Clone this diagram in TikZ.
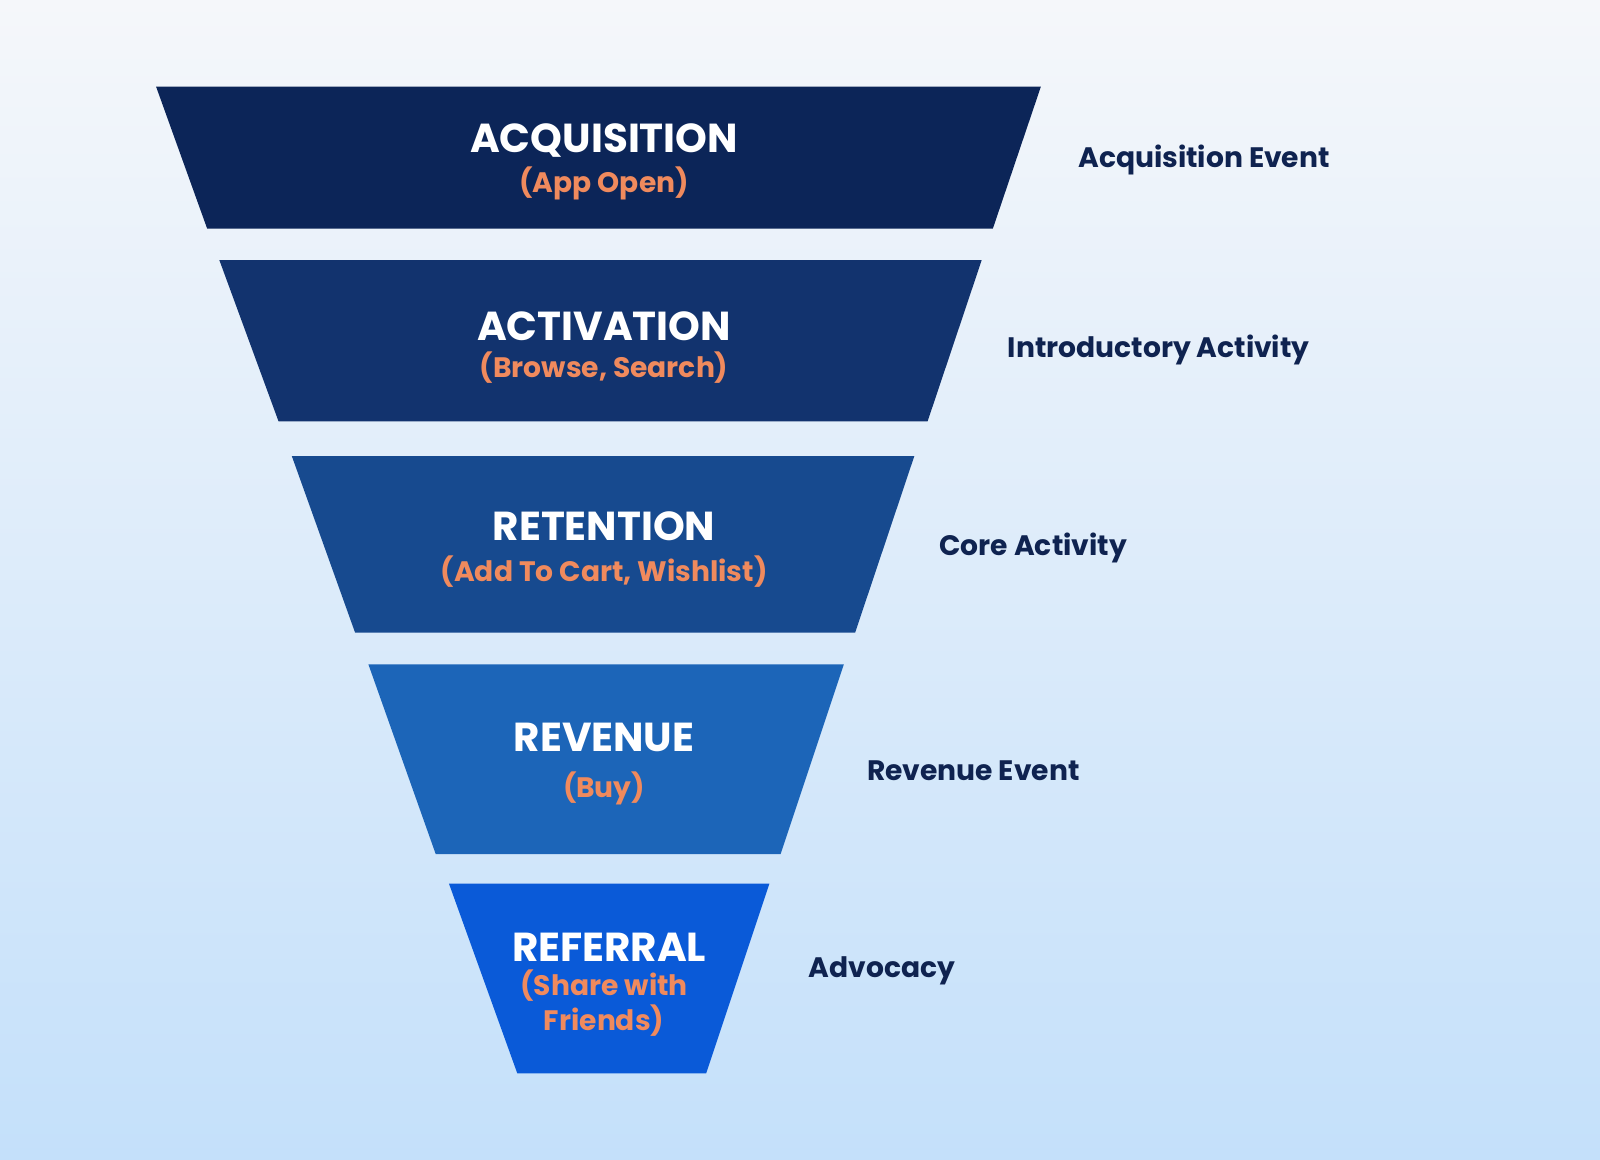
\documentclass[tikz,border=0pt]{standalone}
\usepackage{fontspec}
\setmainfont{Poppins}
\usetikzlibrary{positioning}
\definecolor{bg_top}{RGB}{245,247,250}
\definecolor{bg_bot}{RGB}{196,224,250}
\definecolor{lvl_a}{RGB}{12,37,88}
\definecolor{lvl_b}{RGB}{18,51,110}
\definecolor{lvl_c}{RGB}{23,74,143}
\definecolor{lvl_d}{RGB}{28,101,184}
\definecolor{lvl_e}{RGB}{10,90,216}
\definecolor{sub_orange}{RGB}{240,138,93}
\definecolor{side_navy}{RGB}{15,35,80}
\begin{document}
\begin{tikzpicture}[x=0.0102cm,y=-0.0102cm]
    \tikzstyle{stage}=[text=white,font=\bfseries\fontsize{11.5}{13}\selectfont,inner sep=0pt]
    \tikzstyle{sub}=[text=sub_orange,font=\bfseries\fontsize{8}{10}\selectfont,align=center,inner sep=0pt]
    \tikzstyle{side}=[text=side_navy,font=\bfseries\fontsize{8}{10}\selectfont,anchor=west,inner sep=0pt]

    \useasboundingbox (0,0) rectangle (1568,1136);
    \shade[top color=bg_top,bottom color=bg_bot] (0,0) rectangle (1568,1136);

    % funnel layers
    \fill[lvl_a] (153,85) -- (1020,85) -- (973,224) -- (203,224) -- cycle;
    \fill[lvl_b] (215,255) -- (962,255) -- (909,413) -- (273,413) -- cycle;
    \fill[lvl_c] (286,447) -- (896,447) -- (838,620) -- (348,620) -- cycle;
    \fill[lvl_d] (361,651) -- (827,651) -- (765,837) -- (427,837) -- cycle;
    \fill[lvl_e] (440,866) -- (754,866) -- (692,1052) -- (507,1052) -- cycle;

    \node[stage] (acq) at (592,138) {ACQUISITION};
    \node[sub] (acqs) at (592,180) {(App Open)};
    \node[stage] (act) at (592,320) {ACTIVATION};
    \node[sub] (acts) at (592,360) {(Browse, Search)};
    \node[stage] (ret) at (592,516) {RETENTION};
    \node[sub] (rets) at (592,560) {(Add To Cart, Wishlist)};
    \node[stage] (rev) at (592,723) {REVENUE};
    \node[sub] (revs) at (592,773) {(Buy)};
    \node[stage] (ref) at (597,928) {REFERRAL};
    \node[sub] (refs) at (592,983) {(Share with\\Friends)};

    \node[side] (acqe) at (1056,157) {Acquisition Event};
    \node[side] (intro) at (987,343) {Introductory Activity};
    \node[side] (core) at (920,537) {Core Activity};
    \node[side] (reve) at (849,755) {Revenue Event};
    \node[side] (adv) at (792,951) {Advocacy};
\end{tikzpicture}
\end{document}
